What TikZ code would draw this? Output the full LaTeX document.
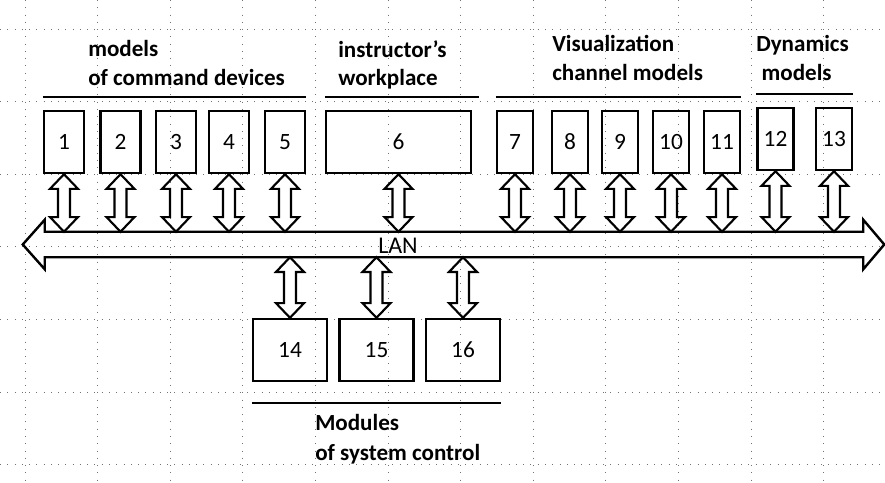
\documentclass[tikz,border=0pt]{standalone}
\usepackage{fontspec}
\setmainfont{Carlito}
\usetikzlibrary{calc}

\begin{document}
\begin{tikzpicture}[
		x=0.75pt, y=-0.75pt,
		gridline/.style={black!55, line width=0.7pt, dash pattern=on 0.75pt off 4.7pt},
		module/.style={rectangle, draw, line width=1.8pt, minimum height=46.5pt, inner sep=0pt, font=\fontsize{17.5}{19}\selectfont},
		narrow/.style={module, minimum width=27pt},
		wide/.style={module, minimum width=30pt},
		ctrl/.style={module, minimum width=55.5pt},
		heading/.style={anchor=north west, inner sep=0pt, align=left, font=\bfseries\fontsize{17.3}{21.5}\selectfont},
		rule/.style={line width=1.9pt},
		bus/.style={draw, line width=1.8pt, line join=miter},
		link/.style={draw, line width=1.6pt, line join=miter, to path={let \p1=(\tikztostart), \p2=(\tikztotarget) in
			(\x1,\y1) -- (\x1+10.5pt,\y1-11pt) -- (\x1+4.5pt,\y1-11pt) -- (\x1+4.5pt,\y2+11pt) -- (\x1+10.5pt,\y2+11pt)
			-- (\x1,\y2) -- (\x1-10.5pt,\y2+11pt) -- (\x1-4.5pt,\y2+11pt) -- (\x1-4.5pt,\y1-11pt) -- (\x1-10.5pt,\y1-11pt) -- cycle}}
		]
		
		\useasboundingbox (0,0) rectangle (885,482);
		
		% background grid
		\foreach \gx in {0,...,11}
			\draw[gridline] (25+72.6*\gx,0) -- (25+72.6*\gx,482);
		\foreach \gy in {0,...,6}
			\draw[gridline] (0,29+72.6*\gy) -- (885,29+72.6*\gy);
		
		% modules on the network
		\node[wide] (m1) at (64,142) {1};
		\node[wide] (m2) at (120.5,142) {2};
		\node[wide] (m3) at (176,142) {3};
		\node[wide] (m4) at (229,142) {4};
		\node[wide] (m5) at (285,142) {5};
		\node[module, minimum width=108.75pt] (m6) at (398.5,142) {6};
		\node[narrow] (m7) at (515,142) {7};
		\node[narrow] (m8) at (570,142) {8};
		\node[narrow] (m9) at (620,142) {9};
		\node[narrow] (m10) at (671,142) {10};
		\node[narrow] (m11) at (722,142) {11};
		\node[narrow] (m12) at (775.5,139) {12};
		\node[narrow] (m13) at (834,139) {13};
		
		\node[ctrl] (m14) at (290,350) {14};
		\node[ctrl] (m15) at (376.5,350) {15};
		\node[ctrl] (m16) at (463,350) {16};
		
		% local network
		\node[minimum width=613.5pt, minimum height=18.75pt, inner sep=0pt] (lan) at (454,244.5) {};
		\node[inner sep=0pt, font=\fontsize{18}{20}\selectfont] (lantext) at (398,246) {LAN};
		\draw[bus] (lan.north west) -- (lan.north east) -- ($(lan.north east)+(0,-12)$) -- ($(lan.east)+(21,0)$)
			-- ($(lan.south east)+(0,12)$) -- (lan.south east) -- (lan.south west) -- ($(lan.south west)+(0,12)$)
			-- ($(lan.west)+(-22,0)$) -- ($(lan.north west)+(0,-12)$) -- cycle;
		
		\foreach \i in {1,...,13}
			\draw[link] (m\i.south) to (m\i.south |- lan.north);
		\foreach \i in {14,15,16}
			\draw[link] (m\i.north |- lan.south) to (m\i.north);
		
		% group headings
		\node[heading] (cmd) at (88,40) {models\\of command devices};
		\node[heading] (instr) at (338,40) {instructor’s\\workplace};
		\node[heading] (vis) at (552,35) {Visualization\\channel models};
		\node[heading] (dyn) at (756,35) {Dynamics\\\hspace*{4pt}models};
		\node[heading, font=\bfseries\fontsize{17.3}{22.5}\selectfont] (ctl) at (315,414) {Modules\\of system control};
		
		\draw[rule] (m1.west |- 0,97) -- (m5.east |- 0,97);
		\draw[rule] (m6.west |- 0,97) -- ($(m6.east |- 0,97)+(7,0)$);
		\draw[rule] (m7.west |- 0,97) -- (m11.east |- 0,97);
		\draw[rule] (m12.west |- 0,94) -- (m13.east |- 0,94);
		\draw[rule] (m14.west |- 0,403) -- (m16.east |- 0,403);
		
	\end{tikzpicture}
\end{document}
